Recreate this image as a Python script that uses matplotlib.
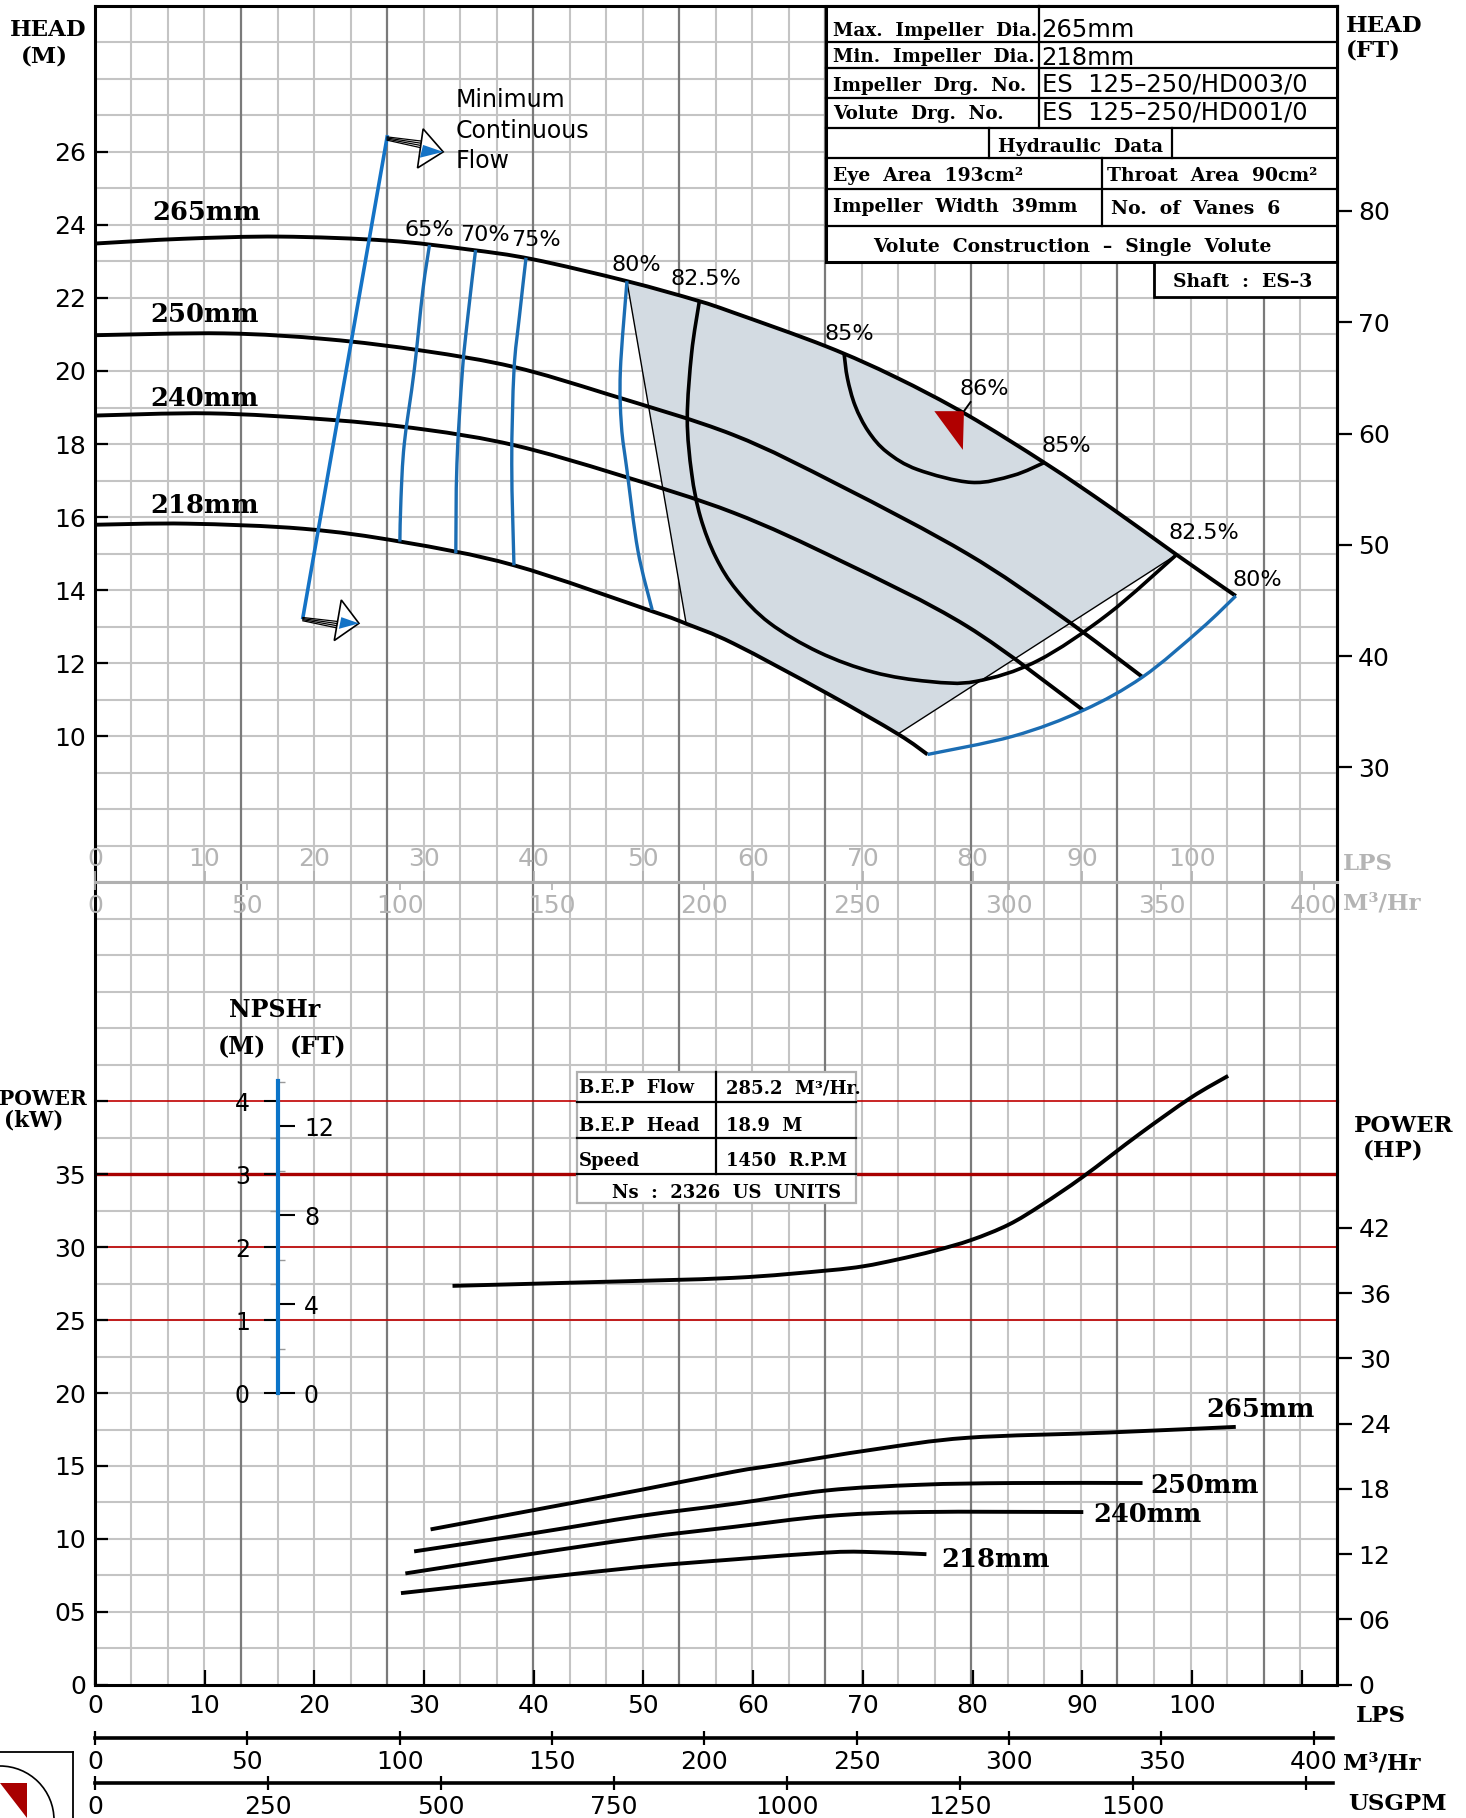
import numpy as np
import matplotlib
matplotlib.use("Agg")
import matplotlib.pyplot as plt
from matplotlib.lines import Line2D
from matplotlib.patches import Polygon, Rectangle, Ellipse, PathPatch
from matplotlib.path import Path

# =====================================================================
# DATA
# flow in LPS, head in m, power in kW, NPSHr in m
# =====================================================================
# head / flow curves per impeller diameter
q_265 = [0, 8, 16.9, 26.7, 34.0, 39.9, 48.5, 54.9, 58.2, 66.7, 73.0, 79.5, 86.7, 92.5, 98.6, 104.0]
h_265 = [23.49, 23.62, 23.68, 23.57, 23.33, 23.06, 22.46, 21.93, 21.60, 20.67, 19.83, 18.80, 17.46, 16.28, 14.97, 13.84]
q_250 = [0, 11.8, 21.2, 30.0, 38.2, 46.8, 58.2, 68.0, 79.5, 88.0, 95.5]
h_250 = [20.98, 21.03, 20.87, 20.55, 20.11, 19.36, 18.25, 16.85, 15.0, 13.3, 11.62]
q_240 = [0, 10.5, 21.2, 30.0, 38.2, 47.6, 58.2, 68.0, 79.5, 90.1]
h_240 = [18.78, 18.84, 18.67, 18.4, 17.97, 17.17, 16.12, 14.8, 13.01, 10.71]
q_218 = [0, 8.4, 19.0, 28.0, 38.2, 51.0, 53.9, 58.2, 66.7, 73.2, 75.9]
h_218 = [15.79, 15.82, 15.68, 15.32, 14.68, 13.40, 13.08, 12.54, 11.18, 10.06, 9.5]

# iso efficiency lines
q_e65 = [30.5, 29.9, 29.1, 28.2, 27.9, 27.8]
h_e65 = [23.45, 22.22, 20.0, 18.0, 16.5, 15.33]
q_e70 = [34.7, 34.0, 33.5, 33.0, 32.9]
h_e70 = [23.31, 21.5, 20.0, 17.46, 15.01]
q_e75 = [39.3, 38.7, 38.2, 38.0, 38.2]
h_e75 = [23.1, 21.5, 20.0, 17.46, 14.68]
q_e80L = [48.5, 47.9, 48.0, 48.5, 49.5, 50.8]
h_e80L = [22.46, 20.0, 18.5, 17.29, 15.08, 13.46]
q_e80R = [75.9, 83.7, 90.1, 95.5, 100.8, 104.0]
h_e80R = [9.5, 10.0, 10.71, 11.62, 12.93, 13.84]
q_e825 = [55.1, 54.4, 54.0, 54.4, 55.2, 56.6, 58.5, 61.5, 66.0, 71.0, 76.0, 80.3, 85.9, 92.3, 98.6]
h_e825 = [21.91, 20.5, 18.7, 17.2, 16.0, 14.9, 14.0, 13.1, 12.3, 11.75, 11.5, 11.5, 12.06, 13.33, 14.97]
q_e85 = [68.3, 68.6, 69.3, 70.5, 72.2, 75.0, 79.9, 83.7, 86.6]
h_e85 = [20.46, 19.8, 19.05, 18.35, 17.78, 17.3, 16.95, 17.14, 17.5]

# preferred operating zone corners (flow)
zone_q = [48.5, 53.9, 73.2, 98.6]

# minimum continuous flow line
q_mcf = [26.64, 18.96]
h_mcf = [26.41, 13.25]

# best efficiency point
bep_flow_m3h = 285.2
bep_head = 18.9

# power curves
qp_265 = [30.6, 39.9, 49.7, 58.2, 62.4, 71.0, 79.5, 92.3, 104.0]
p_265 = [10.65, 11.96, 13.35, 14.6, 15.1, 16.13, 16.93, 17.29, 17.68]
qp_250 = [29.1, 39.9, 49.7, 58.2, 66.7, 75.2, 83.7, 95.5]
p_250 = [9.14, 10.38, 11.57, 12.4, 13.32, 13.71, 13.83, 13.83]
qp_240 = [28.3, 39.9, 49.7, 58.2, 66.7, 75.2, 90.1]
p_240 = [7.63, 8.98, 10.06, 10.82, 11.56, 11.84, 11.84]
qp_218 = [27.9, 39.9, 49.7, 58.2, 66.7, 70.1, 75.8]
p_218 = [6.28, 7.27, 8.07, 8.59, 9.06, 9.11, 8.95]

# NPSHr curve
q_npsh = [32.6, 45.0, 58.2, 66.7, 70.1, 73.1, 76.5, 79.9, 83.3, 86.3, 90.1, 95.2, 99.9, 103.3]
npsh = [1.47, 1.52, 1.58, 1.68, 1.74, 1.83, 1.95, 2.10, 2.31, 2.58, 2.97, 3.55, 4.05, 4.35]

head_ticks = list(range(10, 27, 2))
ft_ticks = list(range(30, 81, 10))
kw_ticks = list(range(0, 41, 5))
kw_labels = ["0", "05", "10", "15", "20", "25", "30", "35", ""]
hp_ticks = list(range(0, 43, 6))
hp_labels = ["0", "06", "12", "18", "24", "30", "36", "42"]
lps_ticks = list(range(0, 111, 10))
m3h_ticks = list(range(0, 401, 50))
gpm_ticks = list(range(0, 1751, 250))

# =====================================================================
# LAYOUT (pixels of the 1466 x 1818 sheet)
# =====================================================================
W, H = 1466, 1818
PX_LPS = 10.97          # px per LPS
X0, X1 = 94.9, 1336.5   # left / right frame
Y_TOP, Y_H0, Y_P0 = 5.8, 1101.4, 1684.7
PX_M = (Y_H0 - Y_TOP) / 30.0
PX_KW = (Y_P0 - Y_H0) / 40.0
XMAX = (X1 - X0) / PX_LPS
CELL = PX_M / PX_LPS     # grid cell width in LPS

SERIF = "DejaVu Serif"
SANS = "DejaVu Sans"
BLUE = "#1b6db3"
GRID = "#c4c4c4"
GRID_MAJ = "#7a7a7a"
RED = "#c00000"
GRAY_TXT = "#b4b4b4"

m2ft = (lambda m: m / 0.3048, lambda f: f * 0.3048)
kw2hp = (lambda k: k / 0.7457, lambda h: h * 0.7457)
lps2m3h = (lambda q: q * 3.6, lambda v: v / 3.6)

plt.rcParams["font.family"] = SANS


def rect(x0, y0, x1, y1):
    return [x0 / W, 1 - y1 / H, (x1 - x0) / W, max(y1 - y0, 0.001) / H]


def ftxt(x, y, s, size, family=SERIF, weight="bold", ha="left", va="baseline", color="black"):
    fig.text(x / W, 1 - y / H, s, fontsize=size, family=family, fontweight=weight,
             ha=ha, va=va, color=color)


def fline(x0, y0, x1, y1, color="black", lw=1.6):
    fig.add_artist(Line2D([x0 / W, x1 / W], [1 - y0 / H, 1 - y1 / H],
                          transform=fig.transFigure, color=color, lw=lw))


def fbox(x0, y0, x1, y1, fc="white", ec="black", lw=1.6):
    fig.add_artist(Rectangle((x0 / W, 1 - y1 / H), (x1 - x0) / W, (y1 - y0) / H,
                             transform=fig.transFigure, facecolor=fc, edgecolor=ec, lw=lw))


def curve(ax, q, y, color="black", lw=2.8, zorder=3):
    # smooth bezier path through the read points (catmull-rom control points)
    pts = np.column_stack([q, y]).astype(float)
    verts = [pts[0]]
    codes = [Path.MOVETO]
    n = len(pts)
    for i in range(n - 1):
        p0 = pts[i - 1] if i > 0 else pts[i]
        p1, p2 = pts[i], pts[i + 1]
        p3 = pts[i + 2] if i + 2 < n else pts[i + 1]
        verts += [p1 + (p2 - p0) / 6.0, p2 - (p3 - p1) / 6.0, p2]
        codes += [Path.CURVE4] * 3
    ax.add_patch(PathPatch(Path(verts, codes), fill=False, edgecolor=color, lw=lw,
                           zorder=zorder, joinstyle="round", capstyle="butt"))


fig = plt.figure(figsize=(W / 100, H / 100), dpi=100)

ax_h = fig.add_axes(rect(X0, Y_TOP, X1, Y_H0))
ax_p = fig.add_axes(rect(X0, Y_H0, X1, Y_P0))
ax_h.set_xlim(0, XMAX)
ax_h.set_ylim(0, 30)
ax_p.set_xlim(0, XMAX)
ax_p.set_ylim(0, 40)

# graph paper
for ax, ystep, ymax in ((ax_h, 1.0, 30), (ax_p, 2.5, 40)):
    for y in np.arange(ystep, ymax, ystep):
        ax.axhline(y, color=GRID, lw=1.5, zorder=0.5)
    for k in range(1, 35):
        major = k % 4 == 0
        ax.axvline(k * CELL, color=GRID_MAJ if major else GRID, lw=1.6 if major else 1.5,
                   zorder=0.6 if major else 0.5)

for ax in (ax_h, ax_p):
    for s in ax.spines.values():
        s.set_linewidth(2.2)
ax_h.spines["bottom"].set_visible(False)
ax_p.spines["top"].set_visible(False)

# ---------------------------------------------------------------- head
ax_h.set_xticks([])
ax_h.set_yticks(head_ticks)
ax_h.tick_params(axis="y", direction="in", length=9.5, width=1.6, labelsize=18, pad=6.5)
sec_h = ax_h.secondary_yaxis("right", functions=m2ft)
sec_h.set_yticks(ft_ticks)
sec_h.tick_params(direction="out", length=10.5, width=1.6, labelsize=18, pad=5)
sec_h.spines["right"].set_linewidth(2.2)

# preferred zone shading
top = [(q, h) for q, h in zip(q_265, h_265) if zone_q[0] <= q <= zone_q[3]]
bot = [(q, h) for q, h in zip(q_218, h_218) if zone_q[1] <= q <= zone_q[2]]
ax_h.add_patch(Polygon([top[0]] + bot + top[::-1], closed=True, facecolor="#d3dbe2",
                       edgecolor="none", zorder=1))
ax_h.plot([top[0][0], bot[0][0]], [top[0][1], bot[0][1]], color="black", lw=1.0, zorder=2)
ax_h.plot([bot[-1][0], top[-1][0]], [bot[-1][1], top[-1][1]], color="black", lw=1.0, zorder=2)

for q, h in ((q_265, h_265), (q_250, h_250), (q_240, h_240), (q_218, h_218)):
    curve(ax_h, q, h, lw=2.8)
for q, h in ((q_e65, h_e65), (q_e70, h_e70), (q_e75, h_e75), (q_e80L, h_e80L), (q_e80R, h_e80R)):
    curve(ax_h, q, h, color=BLUE, lw=2.4)
for q, h in ((q_e825, h_e825), (q_e85, h_e85)):
    curve(ax_h, q, h, lw=2.6)

# minimum continuous flow line and arrows
ax_h.plot(q_mcf, h_mcf, color="#1473c6", lw=2.6, zorder=4)
for (sq, sh), tri, blue in (
    ((q_mcf[0], h_mcf[0]), [(29.92, 26.63), (31.75, 26.0), (29.41, 25.56)],
     [(29.92, 26.19), (31.75, 26.0), (29.62, 25.84)]),
    ((q_mcf[1], h_mcf[1]), [(22.46, 13.73), (24.07, 13.09), (21.82, 12.62)],
     [(22.46, 13.26), (24.07, 13.09), (22.24, 12.94)]),
):
    for i in range(4):
        ax_h.plot([sq, tri[0][0] - 0.05 * i], [sh - 0.03 * i, sh - 0.12 - 0.06 * i],
                  color="black", lw=0.9, zorder=4)
    ax_h.add_patch(Polygon(tri, closed=True, facecolor="white", edgecolor="black", lw=1.2, zorder=5))
    ax_h.add_patch(Polygon(blue, closed=True, facecolor="#1473c6", edgecolor="none", zorder=6))

# best efficiency point marker
bq = bep_flow_m3h / 3.6
ax_h.add_patch(Polygon([(bq - 2.7, bep_head), (bq, bep_head), (bq - 0.1, bep_head - 1.06)],
                       closed=True, facecolor="#b00000", edgecolor="none", zorder=6))
ax_h.plot([bq, bq + 0.6], [bep_head, bep_head + 0.25], color="black", lw=1.4, zorder=6)

# ---------------------------------------------------------------- power
ax_p.set_yticks(kw_ticks)
ax_p.set_yticklabels(kw_labels)
ax_p.set_xticks(lps_ticks)
ax_p.set_xticklabels([str(v) if v <= 100 else "" for v in lps_ticks])
ax_p.tick_params(axis="y", direction="in", length=9.5, width=1.6, labelsize=18, pad=6.5)
ax_p.tick_params(axis="x", direction="in", length=10.5, width=1.6, labelsize=18, pad=7)
sec_p = ax_p.secondary_yaxis("right", functions=kw2hp)
sec_p.set_yticks(hp_ticks)
sec_p.set_yticklabels(hp_labels)
sec_p.tick_params(direction="out", length=11, width=1.6, labelsize=18, pad=5)
sec_p.spines["right"].set_linewidth(2.2)

for y in (25, 30, 40):
    ax_p.axhline(y, color=RED, lw=1.2, zorder=0.8, clip_on=False)
ax_p.axhline(35, color="#a80000", lw=2.4, zorder=0.8)

for q, p in ((qp_265, p_265), (qp_250, p_250), (qp_240, p_240), (qp_218, p_218)):
    curve(ax_p, q, p, lw=2.8)

# NPSHr scale and curve (0 m sits on the 20 kW line, 1 m per 5 kW)
ax_n = fig.add_axes(rect(X0, Y_P0 - 45 * PX_KW, X1, Y_P0))
ax_n.patch.set_visible(False)
ax_n.set_xlim(0, XMAX)
ax_n.set_ylim(-4, 5)
for s in ("top", "right", "bottom"):
    ax_n.spines[s].set_visible(False)
q_scale = (278.3 - X0) / PX_LPS
ax_n.spines["left"].set_position(("data", q_scale))
ax_n.spines["left"].set_bounds(0, 4.28)
ax_n.spines["left"].set_color("#0b74c8")
ax_n.spines["left"].set_linewidth(3)
ax_n.set_xticks([])
ax_n.set_yticks([0, 1, 2, 3, 4])
ax_n.set_yticks([0.5, 1.5, 2.5, 3.5], minor=True)
ax_n.tick_params(axis="y", which="major", direction="out", length=10, width=1.5,
                 labelsize=17, pad=10.5)
ax_n.tick_params(axis="y", which="minor", direction="out", length=6, width=1.0, color="#999999")
sec_n = ax_n.secondary_yaxis(q_scale / XMAX, functions=m2ft)
sec_n.set_alignment("right")
for s in sec_n.spines.values():
    s.set_visible(False)
sec_n.set_yticks([0, 4, 8, 12])
sec_n.set_yticks([2, 6, 10, 14], minor=True)
sec_n.tick_params(which="major", direction="out", length=12, width=1.5, labelsize=17, pad=6.5)
sec_n.tick_params(which="minor", direction="out", length=5, width=1.0, color="#999999")
curve(ax_n, q_npsh, npsh, lw=2.8)

# grey flow scale across the middle of the chart (at head = 6 m)
y_mid = Y_H0 - 6 * PX_M
ax_mid = fig.add_axes(rect(X0, y_mid, X1, y_mid))
ax_mid.patch.set_visible(False)
ax_mid.set_xlim(0, XMAX)
ax_mid.set_yticks([])
for s in ("left", "right", "bottom"):
    ax_mid.spines[s].set_visible(False)
ax_mid.spines["top"].set_color("#b0b0b0")
ax_mid.spines["top"].set_linewidth(2.2)
ax_mid.xaxis.set_ticks_position("top")
ax_mid.set_xticks(lps_ticks)
ax_mid.set_xticklabels([str(v) if v <= 100 else "" for v in lps_ticks])
ax_mid.tick_params(axis="x", direction="out", length=8, width=1.2, color="#b0b0b0",
                   labelcolor=GRAY_TXT, labelsize=18, pad=0)
sec_mid = ax_mid.secondary_xaxis("bottom", functions=lps2m3h)
for s in sec_mid.spines.values():
    s.set_visible(False)
sec_mid.set_xticks(m3h_ticks)
sec_mid.tick_params(direction="out", length=6, width=1.2, color="#b0b0b0",
                    labelcolor=GRAY_TXT, labelsize=18, pad=2.5)

# bottom m3/h and USGPM scales
x_end = 1332.8
for y_ax, factor, ticks, labels in (
    (1737.7, 3.6, m3h_ticks, [str(v) for v in m3h_ticks]),
    (1782.7, 15.8503, gpm_ticks, [str(v) if v <= 1500 else "" for v in gpm_ticks]),
):
    a = fig.add_axes(rect(X0, y_ax, x_end, y_ax))
    a.patch.set_visible(False)
    a.set_xlim(0, (x_end - X0) / PX_LPS * factor)
    a.set_yticks([])
    for s in ("left", "right", "top"):
        a.spines[s].set_visible(False)
    a.spines["bottom"].set_linewidth(2.6)
    a.set_xticks(ticks)
    a.set_xticklabels(labels)
    a.tick_params(axis="x", direction="inout", length=9.5, width=1.6, labelsize=18, pad=4)

# =====================================================================
# TEXT
# =====================================================================
ftxt(9.4, 36, "HEAD", 16.5)
ftxt(44.4, 62, "(M)", 16.5, ha="center")
ftxt(1345.4, 31.9, "HEAD", 16.5)
ftxt(1345.4, 57, "(FT)", 16.5)
ftxt(87, 1105, "POWER", 14.5, ha="right")
ftxt(34, 1126, "(kW)", 15.5, ha="center")
ftxt(1353.8, 1132.2, "POWER", 16.5)
ftxt(1363, 1157, "(HP)", 16.5)
ftxt(274.7, 1017.3, "NPSHr", 17, ha="center")
ftxt(241.7, 1054, "(M)", 17, ha="center")
ftxt(318.3, 1054, "(FT)", 17, ha="center")
ftxt(1356, 1721.7, "LPS", 16.5)
ftxt(1343, 1769, "M³/Hr", 16.5)
ftxt(1348, 1810, "USGPM", 16.5)
ftxt(1343, 870, "LPS", 16.5, color=GRAY_TXT)
ftxt(1343, 909.3, "M³/Hr", 16.5, color=GRAY_TXT)

for x, y, s in ((152, 220.3, "265mm"), (150.5, 322.3, "250mm"), (150.5, 405.8, "240mm"),
                (150.5, 513, "218mm"), (1206.6, 1417.4, "265mm"), (1150.5, 1492.8, "250mm"),
                (1093, 1521.8, "240mm"), (941, 1567, "218mm")):
    ftxt(x, y, s, 18.5)

for x, y, s in ((404.4, 236.5, "65%"), (460.5, 240.6, "70%"), (511, 246.4, "75%"),
                (611.5, 270.7, "80%"), (670.9, 285.2, "82.5%"), (824.2, 340.3, "85%"),
                (959.7, 395.4, "86%"), (1041.6, 452.2, "85%"), (1168.7, 539.1, "82.5%"),
                (1232.3, 585.5, "80%")):
    ftxt(x, y, s, 16, family=SANS, weight="normal")

for y, s in ((107.2, "Minimum"), (138, "Continuous"), (168.1, "Flow")):
    ftxt(455.8, y, s, 17, family=SANS, weight="normal")

# hydraulic data table
TX0, TX1 = 826, X1
fbox(TX0, Y_TOP, TX1, 261.7, lw=2.2)
for y in (42.3, 68.3, 98.3, 127.7, 158.3, 189.3, 226):
    fline(TX0, y, TX1, y)
fline(1039, Y_TOP, 1039, 127.7)
fline(989, 127.7, 989, 158.3)
fline(1172.3, 127.7, 1172.3, 158.3)
fline(1102.3, 158.3, 1102.3, 226)
fbox(1154.3, 261.7, TX1, 297.3, lw=2.0)
for y, s in ((36, "Max.  Impeller  Dia."), (61.7, "Min.  Impeller  Dia."),
             (90.7, "Impeller  Drg.  No."), (119.3, "Volute  Drg.  No.")):
    ftxt(833, y, s, 13.2)
for y, s in ((36.7, "265mm"), (65, "218mm"), (92, "ES  125–250/HD003/0"),
             (120, "ES  125–250/HD001/0")):
    ftxt(1041.7, y, s, 17.5, family=SANS, weight="normal")
ftxt(1080.7, 151.7, "Hydraulic  Data", 13.5, ha="center")
ftxt(833, 181, "Eye  Area  193cm²", 13.5)
ftxt(1107.3, 181, "Throat  Area  90cm²", 13.5)
ftxt(833, 212.3, "Impeller  Width  39mm", 13.5)
ftxt(1110.7, 214.3, "No.  of  Vanes  6", 13.5)
ftxt(1072.5, 252.3, "Volute  Construction  –  Single  Volute", 13.5, ha="center")
ftxt(1242.5, 287.3, "Shaft  :  ES–3", 13.5, ha="center")

# B.E.P table
fbox(577.3, 1072.3, 856, 1203.3, ec="#b0b0b0", lw=1.6)
for y in (1101.7, 1138.3, 1174.3):
    fline(577.3, y, 856, y)
fline(716, 1072.3, 716, 1174.3)
for y, a, b in ((1093.3, "B.E.P  Flow", "285.2  M³/Hr."), (1130.7, "B.E.P  Head", "18.9  M"),
                (1166, "Speed", "1450  R.P.M")):
    ftxt(579, y, a, 13)
    ftxt(725.7, y, b, 13)
ftxt(727, 1198, "Ns  :  2326  US  UNITS", 13, ha="center")

# corner logo fragment
fline(0, 1752.3, 72.7, 1752.3, lw=1.3)
fline(72.7, 1752.3, 72.7, 1818, lw=1.3)
fig.add_artist(Ellipse((0, 1 - 1820 / H), 2 * 54 / W, 2 * 54 / H, transform=fig.transFigure,
                       fill=False, ec="black", lw=1.2))
fig.add_artist(Polygon([(0, 1 - 1783 / H), (27 / W, 1 - 1783 / H), (27 / W, 0)], closed=True,
                       transform=fig.transFigure, facecolor="#a80000", edgecolor="none"))

fig.savefig("out.png", dpi=100)
